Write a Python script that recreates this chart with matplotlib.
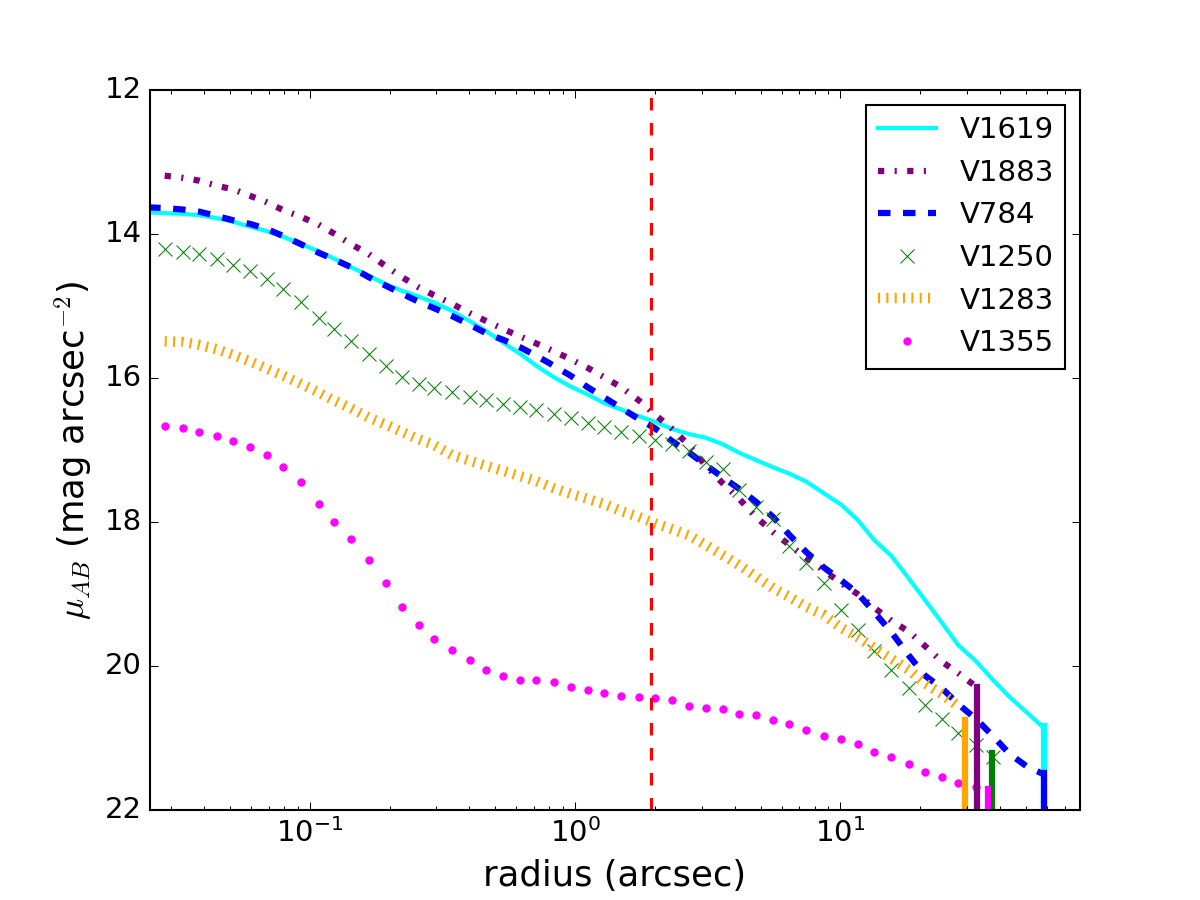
import matplotlib
matplotlib.use("Agg")
import matplotlib.pyplot as plt

# radial grid of the profiles (arcsec)
radius = [0.0246, 0.0284, 0.0332, 0.0384, 0.0446, 0.0515, 0.0596, 0.0689, 0.0796, 0.0925,
          0.108, 0.123, 0.143, 0.167, 0.194, 0.223, 0.257, 0.294, 0.344, 0.401,
          0.463, 0.536, 0.618, 0.714, 0.832, 0.964, 1.117, 1.288, 1.496, 1.738,
          2.004, 2.328, 2.698, 3.112, 3.597, 4.159, 4.808, 5.572, 6.427, 7.447,
          8.650, 10.07, 11.61, 13.40, 15.56, 18.07, 20.80, 24.15, 27.80, 32.58,
          37.50, 43.4, 50.2, 58.1]

mu_v1619 = [13.70, 13.71, 13.72, 13.74, 13.78, 13.83, 13.90, 13.96, 14.04, 14.14,
            14.24, 14.34, 14.46, 14.58, 14.70, 14.79, 14.87, 14.95, 15.07, 15.21,
            15.35, 15.51, 15.66, 15.83, 15.99, 16.12, 16.23, 16.35, 16.44, 16.53,
            16.61, 16.71, 16.78, 16.83, 16.92, 17.04, 17.14, 17.24, 17.33, 17.44,
            17.60, 17.76, 17.97, 18.25, 18.47, 18.78, 19.08, 19.40, 19.71, 19.94,
            20.19, 20.43, 20.64, 20.85]

mu_v784 = [13.63, 13.64, 13.66, 13.69, 13.75, 13.81, 13.86, 13.93, 14.03, 14.14,
           14.26, 14.35, 14.46, 14.60, 14.72, 14.83, 14.94, 15.03, 15.14, 15.26,
           15.38, 15.47, 15.57, 15.69, 15.83, 15.97, 16.13, 16.27, 16.42, 16.57,
           16.70, 16.88, 17.04, 17.21, 17.38, 17.54, 17.72, 17.93, 18.18, 18.42,
           18.63, 18.81, 18.99, 19.25, 19.53, 19.85, 20.13, 20.31, 20.53, 20.74,
           20.97, 21.22, 21.39, 21.50]

mu_v1883 = [13.19, 13.22, 13.26, 13.33, 13.38, 13.47, 13.56, 13.67, 13.76, 13.87,
            13.99, 14.14, 14.28, 14.45, 14.60, 14.74, 14.85, 14.97, 15.10, 15.21,
            15.32, 15.42, 15.52, 15.63, 15.74, 15.86, 15.99, 16.13, 16.31, 16.51,
            16.71, 16.94, 17.22, 17.46, 17.68, 17.93, 18.14, 18.32, 18.50, 18.67,
            18.85, 19.00, 19.19, 19.37, 19.52, 19.72, 19.94, 20.10, 20.29]

mu_v1250 = [14.21, 14.25, 14.28, 14.35, 14.43, 14.52, 14.63, 14.77, 14.95, 15.17,
            15.32, 15.49, 15.66, 15.83, 15.98, 16.09, 16.14, 16.20, 16.27, 16.31,
            16.36, 16.40, 16.45, 16.50, 16.55, 16.62, 16.68, 16.75, 16.81, 16.86,
            16.92, 17.02, 17.16, 17.27, 17.56, 17.79, 17.96, 18.34, 18.57, 18.85,
            19.22, 19.50, 19.79, 20.05, 20.31, 20.54, 20.74, 20.93, 21.10, 21.26]

mu_v1283 = [15.49, 15.50, 15.54, 15.60, 15.68, 15.77, 15.87, 15.97, 16.08, 16.20,
            16.31, 16.42, 16.55, 16.65, 16.75, 16.85, 16.93, 17.07, 17.15, 17.22,
            17.29, 17.36, 17.43, 17.53, 17.61, 17.68, 17.75, 17.85, 17.93, 18.02,
            18.10, 18.19, 18.32, 18.46, 18.60, 18.76, 18.92, 19.04, 19.18, 19.29,
            19.47, 19.60, 19.75, 19.90, 20.05, 20.24, 20.39, 20.56]

mu_v1355 = [16.66, 16.70, 16.75, 16.81, 16.88, 16.96, 17.07, 17.23, 17.44, 17.75,
            18.00, 18.24, 18.53, 18.85, 19.18, 19.43, 19.62, 19.78, 19.91, 20.06,
            20.14, 20.20, 20.20, 20.22, 20.29, 20.34, 20.38, 20.41, 20.43, 20.45,
            20.47, 20.55, 20.59, 20.60, 20.66, 20.68, 20.75, 20.81, 20.89, 20.97,
            21.02, 21.09, 21.19, 21.26, 21.36, 21.47, 21.54, 21.62, 21.68]

# outer radius markers (x position, top of bar)
rmax = {"V1619": (58.3, 20.83), "V1883": (32.7, 20.29), "V784": (58.3, 21.49),
        "V1250": (37.2, 21.21), "V1283": (29.6, 20.75), "V1355": (36.0, 21.71)}

r_cut = 1.93
y_bottom, y_top = 22, 12

plt.style.use("classic")
plt.rcParams["font.size"] = 14

fig = plt.figure(figsize=(8, 6), dpi=150, facecolor="white")
ax = fig.add_subplot(111)

ax.plot(radius, mu_v1619, "-", color="cyan", lw=2, label="V1619")
ax.plot(radius[1:50], mu_v1883, "-.", color="purple", lw=3, label="V1883")
ax.plot(radius, mu_v784, "--", color="blue", lw=3, label="V784")
ax.plot(radius[1:51], mu_v1250, "x", color="green", ms=6.5, label="V1250")
ax.plot(radius[1:49], mu_v1283, ":", color="orange", lw=5, label="V1283")
ax.plot(radius[1:50], mu_v1355, ".", color="magenta", ms=7, mec="magenta", label="V1355")

colors = {"V1619": "cyan", "V1883": "purple", "V784": "blue",
          "V1250": "green", "V1283": "orange", "V1355": "magenta"}
for name in ["V1619", "V1883", "V784", "V1250", "V1283", "V1355"]:
    x, top = rmax[name]
    ax.plot([x, x], [top, y_bottom], "-", color=colors[name], lw=3)

ax.axvline(r_cut, color="red", ls="--", lw=1.5)

ax.set_xscale("log")
ax.set_xlim(0.025, 80)
ax.set_ylim(y_bottom, y_top)
ax.set_yticks([12, 14, 16, 18, 20, 22])
ax.set_xlabel("radius (arcsec)", fontsize=17)
ax.set_ylabel(r"$\mu_{AB}$ (mag arcsec$^{-2}$)", fontsize=17)

ax.legend(loc="upper right", numpoints=1, fontsize=14)

fig.savefig("out.png", dpi=150, facecolor="white")
